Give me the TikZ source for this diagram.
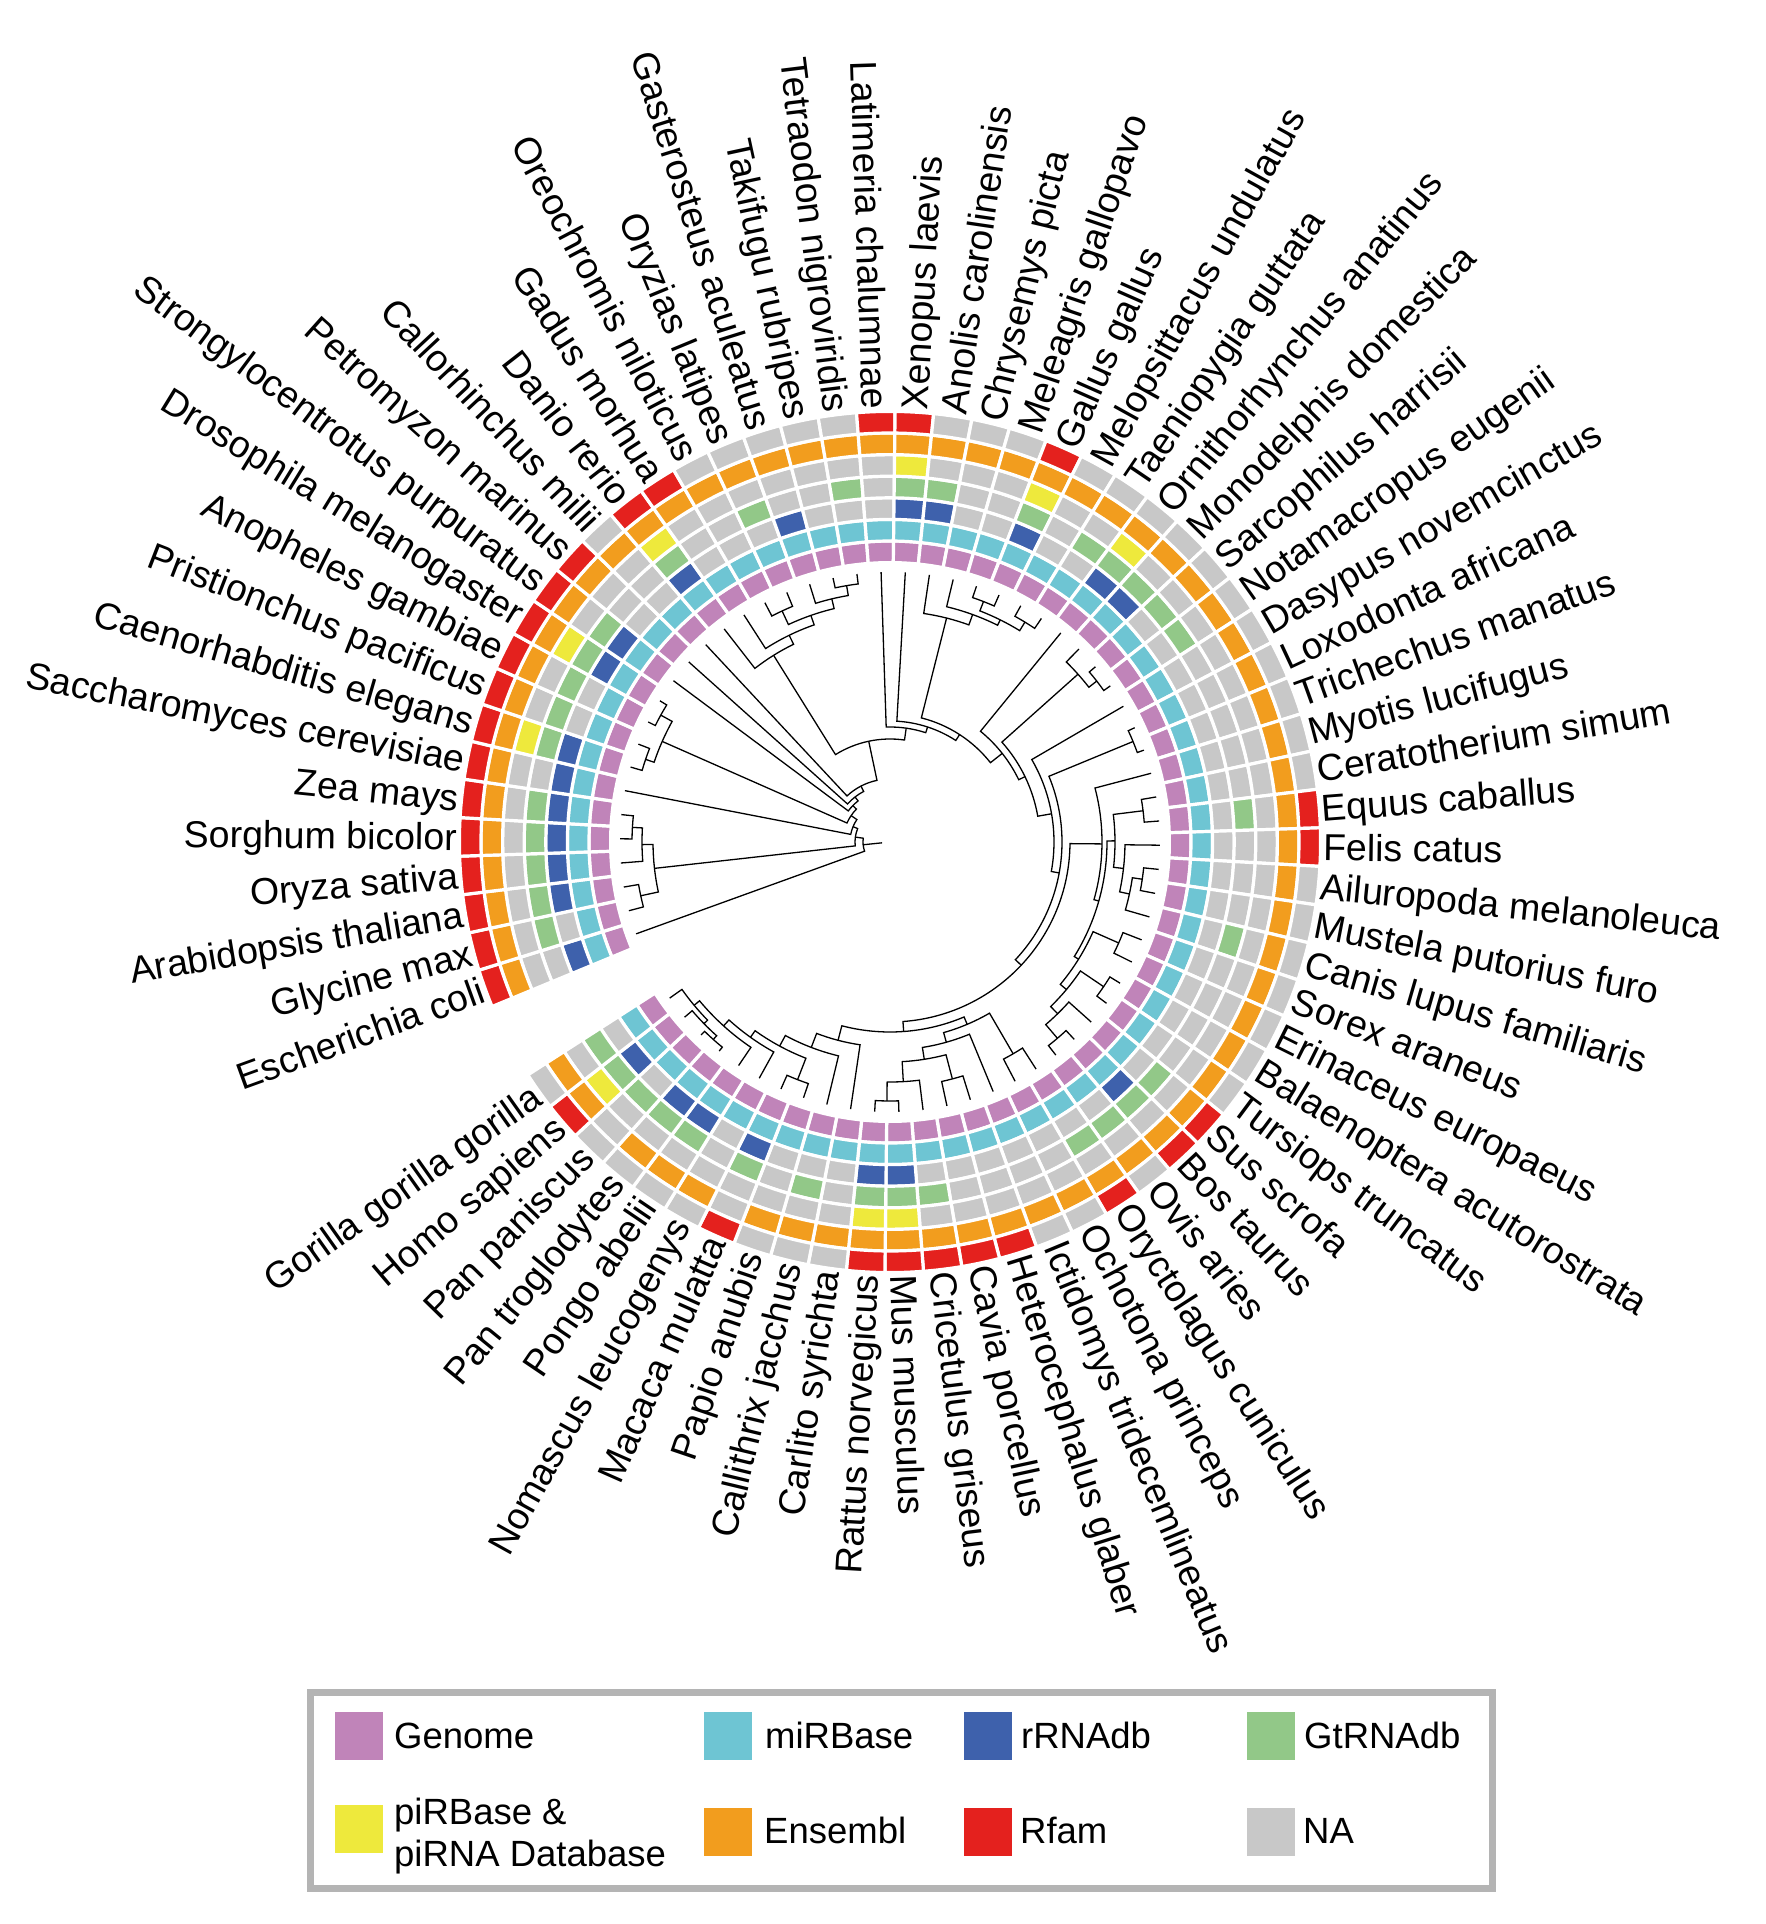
\documentclass[tikz,border=0pt]{standalone}
\usepackage{fontspec}
\setmainfont{Liberation Sans}
\definecolor{cpink}{RGB}{192,132,185}
\definecolor{ccyan}{RGB}{110,197,211}
\definecolor{cblue}{RGB}{62,97,172}
\definecolor{cgreen}{RGB}{146,200,136}
\definecolor{cyellow}{RGB}{238,233,60}
\definecolor{corange}{RGB}{242,157,30}
\definecolor{cred}{RGB}{228,33,30}
\definecolor{cgray}{RGB}{200,200,200}
\definecolor{cframe}{RGB}{180,180,180}

\newcommand{\ringcell}[3]{%
  \pgfmathsetmacro{\csA}{#1-2.571429}%
  \pgfmathsetmacro{\csB}{#1+2.571429}%
  \pgfmathsetmacro{\csI}{279.4+21.6*#2}%
  \pgfmathsetmacro{\csO}{\csI+21.6}%
  \filldraw[fill=#3, draw=white, line width=3.2pt]
    (\csA:\csI pt) arc[start angle=\csA, end angle=\csB, radius=\csI pt]
    -- (\csB:\csO pt) arc[start angle=\csB, end angle=\csA, radius=\csO pt] -- cycle;}
\newcommand{\pick}[4]{\ifnum#3=1 \ringcell{#1}{#2}{#4}\else\ringcell{#1}{#2}{cgray}\fi}

\newcommand{\tleaf}[2]{%
  \pgfmathsetmacro{\tlA}{89.32+(22.5-#2)*5.142857}%
  \expandafter\xdef\csname TA@#1\endcsname{\tlA}%
  \expandafter\xdef\csname TR@#1\endcsname{270}}
\newcommand{\tnode}[4]{%
  \edef\tnA{\csname TA@#3\endcsname}%
  \edef\tnB{\csname TA@#4\endcsname}%
  \edef\tnRA{\csname TR@#3\endcsname}%
  \edef\tnRB{\csname TR@#4\endcsname}%
  \pgfmathsetmacro{\tnM}{(\tnA+\tnB)/2}%
  \expandafter\xdef\csname TA@#1\endcsname{\tnM}%
  \expandafter\xdef\csname TR@#1\endcsname{#2}%
  \draw[tree] (\tnA:\tnRA pt) -- (\tnA:#2pt) arc[start angle=\tnA, end angle=\tnB, radius=#2pt] -- (\tnB:\tnRB pt);}

\begin{document}
\begin{tikzpicture}[
  tree/.style={line width=1.3pt, black},
  lab/.style={inner sep=0pt, font=\fontsize{37.5pt}{45pt}\selectfont, text height=26.8pt, text depth=0pt},
  leg/.style={inner sep=0pt, anchor=west, font=\fontsize{36.5pt}{44pt}\selectfont, text height=26.1pt, text depth=0pt}]
\useasboundingbox (-890pt,-1082pt) rectangle (875pt,842pt);

\foreach \i/\nm/\vB/\vG/\vY/\vO/\vR in {
1/Escherichia coli/1/0/0/1/1,
2/Glycine max/0/1/0/1/1,
3/Arabidopsis thaliana/1/1/0/1/1,
4/Oryza sativa/1/1/0/1/1,
5/Sorghum bicolor/1/1/0/1/1,
6/Zea mays/1/1/0/1/1,
7/Saccharomyces cerevisiae/1/0/0/1/1,
8/Caenorhabditis elegans/1/1/1/1/1,
9/Pristionchus pacificus/0/1/0/1/1,
10/Anopheles gambiae/0/1/0/1/1,
11/Drosophila melanogaster/1/1/1/1/1,
12/Strongylocentrotus purpuratus/1/1/0/1/1,
13/Petromyzon marinus/0/0/0/1/1,
14/Callorhinchus milii/0/0/0/1/0,
15/Danio rerio/1/1/1/1/1,
16/Gadus morhua/0/0/0/1/1,
17/Oreochromis niloticus/0/0/0/1/0,
18/Oryzias latipes/0/1/0/1/0,
19/Gasterosteus aculeatus/1/0/0/1/0,
20/Takifugu rubripes/0/0/0/1/0,
21/Tetraodon nigroviridis/0/1/0/1/0,
22/Latimeria chalumnae/0/0/0/1/1,
23/Xenopus laevis/1/1/1/1/1,
24/Anolis carolinensis/1/1/0/1/0,
25/Chrysemys picta/0/0/0/1/0,
26/Meleagris gallopavo/0/0/0/1/0,
27/Gallus gallus/1/1/1/1/1,
28/Melopsittacus undulatus/0/0/0/1/0,
29/Taeniopygia guttata/0/1/0/1/0,
30/Ornithorhynchus anatinus/1/1/1/1/0,
31/Monodelphis domestica/1/1/0/1/0,
32/Sarcophilus harrisii/0/1/0/1/0,
33/Notamacropus eugenii/0/1/0/1/0,
34/Dasypus novemcinctus/0/0/0/1/0,
35/Loxodonta africana/0/0/0/1/0,
36/Trichechus manatus/0/0/0/1/0,
37/Myotis lucifugus/0/0/0/1/0,
38/Ceratotherium simum/0/0/0/1/0,
39/Equus caballus/0/1/0/1/1,
40/Felis catus/0/0/0/1/1,
41/Ailuropoda melanoleuca/0/0/0/1/0,
42/Mustela putorius furo/0/0/0/1/0,
43/Canis lupus familiaris/0/1/0/1/0,
44/Sorex araneus/0/0/0/1/0,
45/Erinaceus europaeus/0/0/0/1/0,
46/Balaenoptera acutorostrata/0/0/0/1/0,
47/Tursiops truncatus/0/0/0/1/0,
48/Sus scrofa/0/1/0/1/1,
49/Bos taurus/1/1/0/1/1,
50/Ovis aries/0/1/0/1/0,
51/Oryctolagus cuniculus/0/1/0/1/1,
52/Ochotona princeps/0/0/0/1/0,
53/Ictidomys tridecemlineatus/0/0/0/1/0,
54/Heterocephalus glaber/0/0/0/1/1,
55/Cavia porcellus/0/0/0/1/1,
56/Cricetulus griseus/0/1/0/1/1,
57/Mus musculus/1/1/1/1/1,
58/Rattus norvegicus/1/1/1/1/1,
59/Carlito syrichta/0/0/0/1/0,
60/Callithrix jacchus/0/1/0/1/0,
61/Papio anubis/0/0/0/1/0,
62/Macaca mulatta/1/1/0/0/1,
63/Nomascus leucogenys/0/0/0/1/0,
64/Pongo abelii/1/1/0/1/0,
65/Pan troglodytes/1/1/0/1/0,
66/Pan paniscus/0/1/0/0/0,
67/Homo sapiens/1/1/1/1/1,
68/Gorilla gorilla gorilla/0/1/0/1/0}{
  \pgfmathsetmacro{\ang}{89.32+(22.5-\i)*5.142857}
  \ringcell{\ang}{0}{cpink}
  \ringcell{\ang}{1}{ccyan}
  \pick{\ang}{2}{\vB}{cblue}
  \pick{\ang}{3}{\vG}{cgreen}
  \pick{\ang}{4}{\vY}{cyellow}
  \pick{\ang}{5}{\vO}{corange}
  \pick{\ang}{6}{\vR}{cred}
  \tleaf{L\i}{\i}
  \ifnum\i<23
    \node[lab, anchor=east, rotate=\ang+180] (s\i) at (\ang:433pt) {\nm};
  \else\ifnum\i>57
    \node[lab, anchor=east, rotate=\ang+180] (s\i) at (\ang:433pt) {\nm};
  \else
    \node[lab, anchor=west, rotate=\ang] (s\i) at (\ang:433pt) {\nm};
  \fi\fi
}

% tree
\tnode{PO}{258}{L5}{L6}
\tnode{MO}{248}{L4}{PO}
\tnode{DI}{255}{L2}{L3}
\tnode{PL}{237}{DI}{MO}
\tnode{NE}{258}{L8}{L9}
\tnode{IN}{262}{L10}{L11}
\tnode{EC}{249}{NE}{IN}
\tnode{T1}{260}{L20}{L21}
\tnode{T2}{250}{L19}{T1}
\tnode{T3}{255}{L17}{L18}
\tnode{T4}{240}{T3}{T2}
\tnode{T5}{230}{L16}{T4}
\tnode{TL}{220}{L15}{T5}
\tnode{GA}{258}{L26}{L27}
\tnode{NV}{258}{L28}{L29}
\tnode{BI}{248}{GA}{NV}
\tnode{AR}{242}{L25}{BI}
\tnode{SA}{231}{L24}{AR}
\tnode{AU}{262}{L32}{L33}
\tnode{MS}{252}{L31}{AU}
\tnode{AF}{263}{L35}{L36}
\tnode{PE}{255}{L38}{L39}
\tnode{AC}{255}{L41}{L42}
\tnode{CF}{245}{AC}{L43}
\tnode{CN}{235}{L40}{CF}
\tnode{PC}{225}{PE}{CN}
\tnode{EU}{250}{L44}{L45}
\tnode{WH}{258}{L46}{L47}
\tnode{RU}{258}{L49}{L50}
\tnode{SR}{240}{L48}{RU}
\tnode{CE}{230}{WH}{SR}
\tnode{GB}{222}{EU}{CE}
\tnode{XX}{217}{PC}{GB}
\tnode{LA}{212}{L37}{XX}
\tnode{LG}{245}{L51}{L52}
\tnode{MR}{259}{L57}{L58}
\tnode{MU}{240}{L56}{MR}
\tnode{HY}{245}{L54}{L55}
\tnode{RB}{220}{HY}{MU}
\tnode{RO}{208}{L53}{RB}
\tnode{GL}{198}{LG}{RO}
\tnode{CC}{255}{L61}{L62}
\tnode{PN}{265}{L65}{L66}
\tnode{HI}{260}{PN}{L67}
\tnode{HN}{255}{HI}{L68}
\tnode{HD}{248}{L64}{HN}
\tnode{HO}{240}{L63}{HD}
\tnode{CA}{232}{CC}{HO}
\tnode{ANT}{220}{L60}{CA}
\tnode{PR}{205}{L59}{ANT}
\tnode{EA}{190}{GL}{PR}
\tnode{BO}{180}{LA}{EA}
\tnode{EB}{172}{AF}{BO}
\tnode{EZ}{164}{L34}{EB}
\tnode{TH}{150}{MS}{EZ}
\tnode{MA}{143}{L30}{TH}
\tnode{AMN}{128}{SA}{MA}
\tnode{TE}{121}{L23}{AMN}
\tnode{SP}{115}{L22}{TE}
\tnode{OS}{103}{TL}{SP}
\tnode{GN}{63}{L14}{OS}
\tnode{VE}{57}{L13}{GN}
\tnode{DE}{52}{L12}{VE}
\tnode{ANI}{47}{EC}{DE}
\tnode{OP}{40}{L7}{ANI}
\tnode{EK}{35}{PL}{OP}
\tnode{RT}{27}{L1}{EK}
\edef\rtA{\csname TA@RT\endcsname}
\draw[tree] (\rtA:8pt) -- (\rtA:27pt);

% legend
\draw[cframe, line width=7pt] (-579.5pt,-850pt) rectangle (602pt,-1046pt);
\fill[cpink]   (-555pt,-870pt) rectangle (-507pt,-918pt);
\fill[ccyan]   (-186pt,-870pt) rectangle (-138pt,-918pt);
\fill[cblue]   (74pt,-870pt) rectangle (122pt,-918pt);
\fill[cgreen]  (357pt,-870pt) rectangle (405pt,-918pt);
\fill[cyellow] (-555pt,-963pt) rectangle (-507pt,-1011pt);
\fill[corange] (-186pt,-966pt) rectangle (-138pt,-1014pt);
\fill[cred]    (74pt,-966pt) rectangle (122pt,-1014pt);
\fill[cgray]   (357pt,-966pt) rectangle (405pt,-1014pt);
\node[leg] (lgGenome) at (-496pt,-893pt) {Genome};
\node[leg] (lgmiR) at (-125pt,-893pt) {miRBase};
\node[leg] (lgrRNA) at (131pt,-893pt) {rRNAdb};
\node[leg] (lgGt) at (414pt,-893pt) {GtRNAdb};
\node[leg] (lgpi1) at (-496pt,-969pt) {piRBase \&};
\node[leg] (lgpi2) at (-496pt,-1011pt) {piRNA Database};
\node[leg] (lgEns) at (-126pt,-988pt) {Ensembl};
\node[leg] (lgRfam) at (130pt,-988pt) {Rfam};
\node[leg] (lgNA) at (413pt,-988pt) {NA};
\end{tikzpicture}
\end{document}
